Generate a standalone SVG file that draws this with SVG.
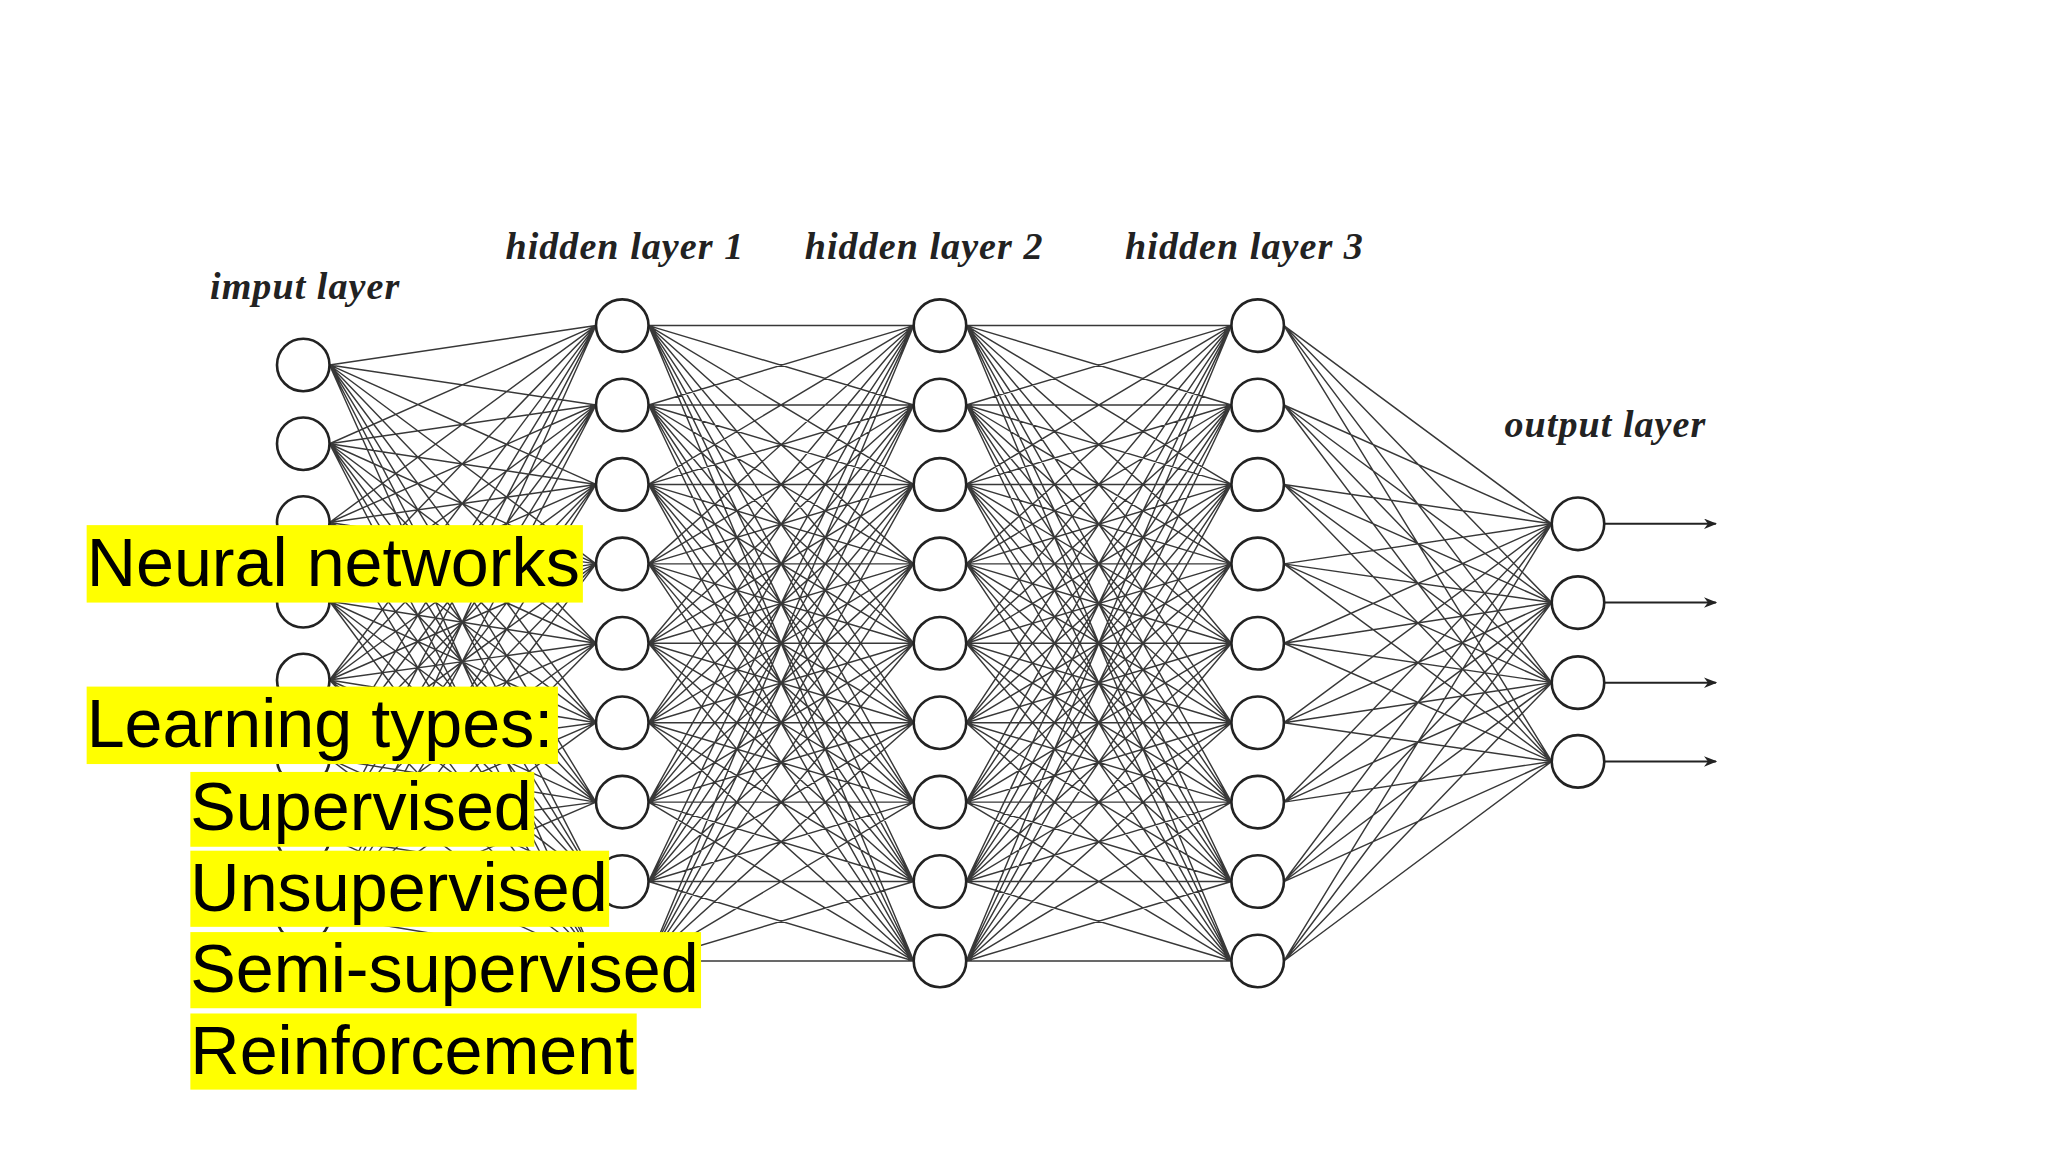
<svg xmlns="http://www.w3.org/2000/svg" width="2048" height="1152" viewBox="0 0 2048 1152">
<style>
.n{fill:#fff;stroke:#222;stroke-width:2}
.e{fill:none;stroke:#222;stroke-width:1.1;stroke-opacity:0.9}
.lab{font-family:"Liberation Serif",serif;font-style:italic;font-weight:bold;font-size:29px;letter-spacing:0.8px;fill:#222}
.t{font-family:"Liberation Sans",Arial,sans-serif;font-size:52px;fill:#000}
.hl{fill:#ffff00}
</style>
<defs>
<marker id="ar" markerWidth="10" markerHeight="8" refX="9" refY="4" orient="auto" markerUnits="userSpaceOnUse"><path d="M0,0 L10,4 L0,8 L3,4 Z" fill="#222"/></marker>
</defs>
<rect width="2048" height="1152" fill="#fff"/>
<g transform="scale(1.3128)">
<g id="connectors">
<path class="e" d="M251 278L454 248M251 278L454 308.5M251 278L454 369M251 278L454 429.5M251 278L454 490M251 278L454 550.5M251 278L454 611M251 278L454 671.5M251 278L454 732
M251 338L454 248M251 338L454 308.5M251 338L454 369M251 338L454 429.5M251 338L454 490M251 338L454 550.5M251 338L454 611M251 338L454 671.5M251 338L454 732
M251 398L454 248M251 398L454 308.5M251 398L454 369M251 398L454 429.5M251 398L454 490M251 398L454 550.5M251 398L454 611M251 398L454 671.5M251 398L454 732
M251 458L454 248M251 458L454 308.5M251 458L454 369M251 458L454 429.5M251 458L454 490M251 458L454 550.5M251 458L454 611M251 458L454 671.5M251 458L454 732
M251 518L454 248M251 518L454 308.5M251 518L454 369M251 518L454 429.5M251 518L454 490M251 518L454 550.5M251 518L454 611M251 518L454 671.5M251 518L454 732
M251 578L454 248M251 578L454 308.5M251 578L454 369M251 578L454 429.5M251 578L454 490M251 578L454 550.5M251 578L454 611M251 578L454 671.5M251 578L454 732
M251 638L454 248M251 638L454 308.5M251 638L454 369M251 638L454 429.5M251 638L454 490M251 638L454 550.5M251 638L454 611M251 638L454 671.5M251 638L454 732
M251 698L454 248M251 698L454 308.5M251 698L454 369M251 698L454 429.5M251 698L454 490M251 698L454 550.5M251 698L454 611M251 698L454 671.5M251 698L454 732"/>
<path id="f12" class="e" d="M494 248L696 248M494 248L696 308.5M494 248L696 369M494 248L696 429.5M494 248L696 490M494 248L696 550.5M494 248L696 611M494 248L696 671.5M494 248L696 732
M494 308.5L696 248M494 308.5L696 308.5M494 308.5L696 369M494 308.5L696 429.5M494 308.5L696 490M494 308.5L696 550.5M494 308.5L696 611M494 308.5L696 671.5M494 308.5L696 732
M494 369L696 248M494 369L696 308.5M494 369L696 369M494 369L696 429.5M494 369L696 490M494 369L696 550.5M494 369L696 611M494 369L696 671.5M494 369L696 732
M494 429.5L696 248M494 429.5L696 308.5M494 429.5L696 369M494 429.5L696 429.5M494 429.5L696 490M494 429.5L696 550.5M494 429.5L696 611M494 429.5L696 671.5M494 429.5L696 732
M494 490L696 248M494 490L696 308.5M494 490L696 369M494 490L696 429.5M494 490L696 490M494 490L696 550.5M494 490L696 611M494 490L696 671.5M494 490L696 732
M494 550.5L696 248M494 550.5L696 308.5M494 550.5L696 369M494 550.5L696 429.5M494 550.5L696 490M494 550.5L696 550.5M494 550.5L696 611M494 550.5L696 671.5M494 550.5L696 732
M494 611L696 248M494 611L696 308.5M494 611L696 369M494 611L696 429.5M494 611L696 490M494 611L696 550.5M494 611L696 611M494 611L696 671.5M494 611L696 732
M494 671.5L696 248M494 671.5L696 308.5M494 671.5L696 369M494 671.5L696 429.5M494 671.5L696 490M494 671.5L696 550.5M494 671.5L696 611M494 671.5L696 671.5M494 671.5L696 732
M494 732L696 248M494 732L696 308.5M494 732L696 369M494 732L696 429.5M494 732L696 490M494 732L696 550.5M494 732L696 611M494 732L696 671.5M494 732L696 732"/>
<use href="#f12" transform="translate(242,0)"/>
<path class="e" d="M978 248L1182 399M978 248L1182 459M978 248L1182 520M978 248L1182 580
M978 308.5L1182 399M978 308.5L1182 459M978 308.5L1182 520M978 308.5L1182 580
M978 369L1182 399M978 369L1182 459M978 369L1182 520M978 369L1182 580
M978 429.5L1182 399M978 429.5L1182 459M978 429.5L1182 520M978 429.5L1182 580
M978 490L1182 399M978 490L1182 459M978 490L1182 520M978 490L1182 580
M978 550.5L1182 399M978 550.5L1182 459M978 550.5L1182 520M978 550.5L1182 580
M978 611L1182 399M978 611L1182 459M978 611L1182 520M978 611L1182 580
M978 671.5L1182 399M978 671.5L1182 459M978 671.5L1182 520M978 671.5L1182 580
M978 732L1182 399M978 732L1182 459M978 732L1182 520M978 732L1182 580"/>
<g stroke="#222" stroke-width="1.5" marker-end="url(#ar)">
<line x1="1222" y1="399" x2="1307" y2="399"/>
<line x1="1222" y1="459" x2="1307" y2="459"/>
<line x1="1222" y1="520" x2="1307" y2="520"/>
<line x1="1222" y1="580" x2="1307" y2="580"/>
</g>
</g>
<g id="input-layer">
<circle class="n" cx="231" cy="278" r="20"/><circle class="n" cx="231" cy="338" r="20"/><circle class="n" cx="231" cy="398" r="20"/><circle class="n" cx="231" cy="458" r="20"/><circle class="n" cx="231" cy="518" r="20"/><circle class="n" cx="231" cy="578" r="20"/><circle class="n" cx="231" cy="638" r="20"/><circle class="n" cx="231" cy="698" r="20"/>
<text class="lab" x="160" y="228">imput layer</text>
</g>
<g id="hidden-layer-1">
<circle class="n" cx="474" cy="248" r="20"/><circle class="n" cx="474" cy="308.5" r="20"/><circle class="n" cx="474" cy="369" r="20"/><circle class="n" cx="474" cy="429.5" r="20"/><circle class="n" cx="474" cy="490" r="20"/><circle class="n" cx="474" cy="550.5" r="20"/><circle class="n" cx="474" cy="611" r="20"/><circle class="n" cx="474" cy="671.5" r="20"/><circle class="n" cx="474" cy="732" r="20"/>
<text class="lab" x="385" y="197">hidden layer 1</text>
</g>
<g id="hidden-layer-2">
<circle class="n" cx="716" cy="248" r="20"/><circle class="n" cx="716" cy="308.5" r="20"/><circle class="n" cx="716" cy="369" r="20"/><circle class="n" cx="716" cy="429.5" r="20"/><circle class="n" cx="716" cy="490" r="20"/><circle class="n" cx="716" cy="550.5" r="20"/><circle class="n" cx="716" cy="611" r="20"/><circle class="n" cx="716" cy="671.5" r="20"/><circle class="n" cx="716" cy="732" r="20"/>
<text class="lab" x="613" y="197">hidden layer 2</text>
</g>
<g id="hidden-layer-3">
<circle class="n" cx="958" cy="248" r="20"/><circle class="n" cx="958" cy="308.5" r="20"/><circle class="n" cx="958" cy="369" r="20"/><circle class="n" cx="958" cy="429.5" r="20"/><circle class="n" cx="958" cy="490" r="20"/><circle class="n" cx="958" cy="550.5" r="20"/><circle class="n" cx="958" cy="611" r="20"/><circle class="n" cx="958" cy="671.5" r="20"/><circle class="n" cx="958" cy="732" r="20"/>
<text class="lab" x="857" y="197">hidden layer 3</text>
</g>
<g id="output-layer">
<circle class="n" cx="1202" cy="399" r="20"/><circle class="n" cx="1202" cy="459" r="20"/><circle class="n" cx="1202" cy="520" r="20"/><circle class="n" cx="1202" cy="580" r="20"/>
<text class="lab" x="1146" y="333">output layer</text>
</g>
<g id="text-block">
<rect class="hl" x="66" y="400" width="378" height="59"/>
<rect class="hl" x="66" y="523" width="359" height="59"/>
<rect class="hl" x="145" y="588" width="262" height="57"/>
<rect class="hl" x="145" y="648" width="319" height="58"/>
<rect class="hl" x="145" y="710" width="389" height="58"/>
<rect class="hl" x="145" y="772" width="340" height="58"/>
<text class="t" x="66" y="446">Neural networks</text>
<text class="t" x="66" y="569">Learning types:</text>
<text class="t" x="145" y="632">Supervised</text>
<text class="t" x="145" y="694">Unsupervised</text>
<text class="t" x="145" y="756">Semi-supervised</text>
<text class="t" x="145" y="818">Reinforcement</text>
</g>
</g>
</svg>
